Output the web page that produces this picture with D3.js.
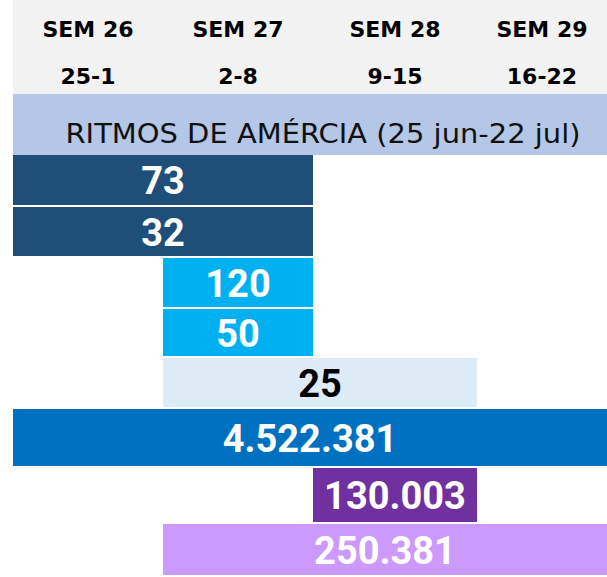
<!DOCTYPE html>
<html>
<head>
<meta charset="utf-8">
<script src="https://cdn.jsdelivr.net/npm/d3@7"></script>
<style>
  html, body { margin: 0; padding: 0; background: #ffffff; }
  svg { display: block; }
  .week-label { font-family: "DejaVu Sans", sans-serif; font-weight: 700; font-size: 22px; fill: #000; }
  .title-label { font-family: "DejaVu Sans", sans-serif; font-weight: 400; font-size: 26px; fill: #111; }
  .bar-label { font-family: Roboto, "Noto Sans", sans-serif; font-weight: 700; font-size: 38px; }
</style>
</head>
<body>
<div id="chart"></div>
<script>
const WEEKS = ["SEM 26", "SEM 27", "SEM 28", "SEM 29"];
const WEEK_RANGES = ["25-1", "2-8", "9-15", "16-22"];
const TITLE = "RITMOS DE AMÉRCIA (25 jun-22 jul)";

const ROW_VALUES = [73, 32, 120, 50, 25, 4522381, 130003, 250381];
const ROW_START = [0, 0, 1, 1, 1, 0, 2, 1]; // first week index
const ROW_END = [2, 2, 2, 2, 3, 4, 3, 4];   // week index after last

const ROW_COLORS = ["#1f4e79", "#1f4e79", "#00b0f0", "#00b0f0", "#ddebf7", "#0070c0", "#7030a0", "#cc99ff"];
const ROW_TEXT = ["#fff", "#fff", "#fff", "#fff", "#000", "#fff", "#fff", "#fff"];

const width = 607;
const height = 577;

const esLocale = d3.formatLocale({ decimal: ",", thousands: ".", grouping: [3], currency: ["", "€"] });
const fmt = esLocale.format(",d");

const svg = d3.select("#chart").append("svg").attr("width", width).attr("height", height);

// week columns are not equal width, so use a piecewise scale on the week boundaries
const x = d3.scaleLinear().domain(d3.range(WEEKS.length + 1)).range([13, 163, 313, 477, 607]);
// rows: blue total row is a bit taller than the rest
const y = d3.scaleLinear().domain(d3.range(ROW_VALUES.length + 1)).range([155, 207, 258, 309, 358, 409, 468, 524, 577]);

// header
svg.append("rect")
  .attr("x", x(0)).attr("y", 0)
  .attr("width", width - x(0)).attr("height", 94)
  .attr("fill", "#f2f2f2");

const header = svg.append("g")
  .selectAll("g")
  .data(WEEKS.map((w, i) => ({ week: w, range: WEEK_RANGES[i], i })))
  .join("g")
  .attr("transform", (d) => `translate(${(x(d.i) + x(d.i + 1)) / 2}, 0)`);

header.append("text")
  .attr("class", "week-label")
  .attr("y", 37)
  .attr("text-anchor", "middle")
  .text((d) => d.week);

header.append("text")
  .attr("class", "week-label")
  .attr("y", 84)
  .attr("text-anchor", "middle")
  .text((d) => d.range);

// title band
svg.append("rect")
  .attr("x", x(0)).attr("y", 94)
  .attr("width", width - x(0)).attr("height", y(0) - 94)
  .attr("fill", "#b4c7e7");

svg.append("text")
  .attr("class", "title-label")
  .attr("x", 323)
  .attr("y", 143)
  .attr("text-anchor", "middle")
  .attr("textLength", 515)
  .attr("lengthAdjust", "spacingAndGlyphs")
  .text(TITLE);

const rows = ROW_VALUES.map((v, i) => ({
  value: v,
  start: ROW_START[i],
  end: ROW_END[i],
  color: ROW_COLORS[i],
  textColor: ROW_TEXT[i],
  i,
}));

const bars = svg.append("g")
  .selectAll("g")
  .data(rows)
  .join("g");

bars.append("rect")
  .attr("x", (d) => x(d.start))
  .attr("y", (d) => y(d.i))
  .attr("width", (d) => Math.min(x(d.end), width) - x(d.start))
  .attr("height", (d) => y(d.i + 1) - y(d.i) - 2)
  .attr("fill", (d) => d.color);

bars.append("text")
  .attr("class", "bar-label")
  .attr("x", (d) => (x(d.start) + x(d.end)) / 2)
  .attr("y", (d) => (y(d.i) + y(d.i + 1)) / 2 + 13)
  .attr("text-anchor", "middle")
  .attr("fill", (d) => d.textColor)
  .text((d) => fmt(d.value));
</script>
</body>
</html>
